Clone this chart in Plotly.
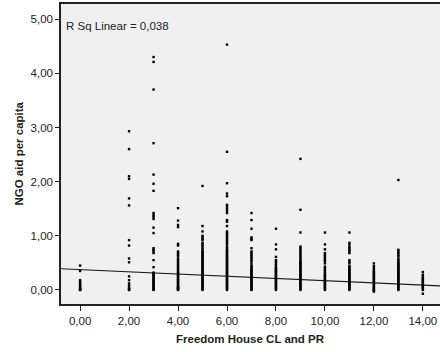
import plotly.graph_objects as go

# ---- data ----
fh_scores = [0, 2, 3, 4, 5, 6, 7, 8, 9, 10, 11, 12, 13, 14]

ngo_0 = [0.45, 0.35, 0.18, 0.15, 0.12, 0.09, 0.06, 0.04, 0.02, 0.01, 0.0, 0.0]
ngo_2 = [2.93, 2.60, 2.10, 2.05, 1.69, 1.56, 0.92, 0.82, 0.58, 0.51, 0.25, 0.18,
         0.12, 0.08, 0.04, 0.02, 0.0, 0.0]
ngo_3 = [4.30, 4.21, 3.70, 2.71, 2.13, 1.96, 1.83, 1.42, 1.38, 1.35, 1.31, 1.15,
         1.05, 0.77, 0.74, 0.71, 0.68, 0.55, 0.42, 0.32, 0.30, 0.28, 0.26, 0.24,
         0.22, 0.20, 0.18, 0.16, 0.14, 0.12, 0.10, 0.08, 0.06, 0.04, 0.03, 0.02,
         0.01, 0.0]
ngo_4 = [1.51, 1.28, 1.20, 1.16, 0.85, 0.82, 0.71, 0.68, 0.65, 0.62, 0.58, 0.55,
         0.52, 0.49, 0.46, 0.43, 0.40, 0.37, 0.34, 0.32, 0.30, 0.28, 0.26, 0.24,
         0.22, 0.20, 0.18, 0.16, 0.14, 0.12, 0.10, 0.08, 0.06, 0.05, 0.04, 0.03,
         0.02, 0.01, 0.0]
ngo_5 = [1.92, 1.18, 1.08, 1.00, 0.97, 0.94, 0.92, 0.87, 0.84, 0.81, 0.78, 0.75,
         0.72, 0.70, 0.68, 0.66, 0.64, 0.62, 0.60, 0.58, 0.56, 0.54, 0.52, 0.50,
         0.48, 0.46, 0.44, 0.42, 0.40, 0.38, 0.36, 0.34, 0.32, 0.30, 0.28, 0.26,
         0.24, 0.22, 0.20, 0.18, 0.16, 0.14, 0.12, 0.10, 0.08, 0.06, 0.04, 0.02,
         0.0]
ngo_6 = [4.53, 2.55, 1.97, 1.78, 1.73, 1.57, 1.54, 1.50, 1.46, 1.42, 1.29, 1.26,
         1.18, 1.08, 1.05, 1.02, 0.99, 0.96, 0.93, 0.90, 0.87, 0.84, 0.80, 0.77,
         0.74, 0.72, 0.70, 0.68, 0.66, 0.64, 0.62, 0.60, 0.58, 0.56, 0.54, 0.52,
         0.50, 0.48, 0.46, 0.44, 0.42, 0.40, 0.38, 0.36, 0.34, 0.32, 0.30, 0.28,
         0.26, 0.24, 0.22, 0.20, 0.18, 0.16, 0.14, 0.12, 0.10, 0.08, 0.06, 0.04,
         0.02, 0.0]
ngo_7 = [1.42, 1.29, 1.13, 0.97, 0.94, 0.92, 0.77, 0.71, 0.68, 0.65, 0.62, 0.59,
         0.56, 0.53, 0.49, 0.45, 0.43, 0.41, 0.39, 0.37, 0.35, 0.33, 0.31, 0.29,
         0.27, 0.25, 0.23, 0.21, 0.19, 0.17, 0.15, 0.13, 0.11, 0.09, 0.07, 0.05,
         0.03, 0.01, 0.0]
ngo_8 = [1.13, 0.84, 0.75, 0.61, 0.55, 0.52, 0.49, 0.46, 0.42, 0.40, 0.38, 0.36,
         0.34, 0.32, 0.30, 0.28, 0.26, 0.24, 0.22, 0.20, 0.18, 0.16, 0.14, 0.12,
         0.10, 0.08, 0.06, 0.04, 0.02, 0.0]
ngo_9 = [2.42, 1.48, 1.06, 0.80, 0.77, 0.74, 0.70, 0.67, 0.64, 0.61, 0.58, 0.55,
         0.52, 0.50, 0.48, 0.46, 0.44, 0.42, 0.40, 0.38, 0.36, 0.34, 0.32, 0.30,
         0.28, 0.26, 0.24, 0.22, 0.20, 0.18, 0.16, 0.14, 0.12, 0.10, 0.08, 0.06,
         0.04, 0.02, 0.0]
ngo_10 = [1.06, 0.84, 0.75, 0.68, 0.65, 0.62, 0.59, 0.56, 0.53, 0.49, 0.43, 0.40,
          0.37, 0.34, 0.31, 0.28, 0.26, 0.24, 0.22, 0.20, 0.18, 0.16, 0.14, 0.12,
          0.10, 0.08, 0.06, 0.04, 0.02, 0.0]
ngo_11 = [1.06, 0.87, 0.84, 0.80, 0.77, 0.74, 0.71, 0.68, 0.55, 0.52, 0.49, 0.44,
          0.42, 0.40, 0.38, 0.36, 0.34, 0.32, 0.30, 0.28, 0.26, 0.24, 0.22, 0.20,
          0.18, 0.16, 0.14, 0.12, 0.10, 0.08, 0.06, 0.04, 0.02, 0.0]
ngo_12 = [0.49, 0.44, 0.41, 0.38, 0.35, 0.33, 0.31, 0.29, 0.27, 0.25, 0.23, 0.21,
          0.19, 0.17, 0.15, 0.13, 0.11, 0.09, 0.07, 0.05, 0.03, 0.01, 0.0, -0.02,
          -0.03]
ngo_13 = [2.03, 0.74, 0.71, 0.68, 0.65, 0.62, 0.58, 0.55, 0.52, 0.50, 0.48, 0.46,
          0.44, 0.42, 0.40, 0.38, 0.36, 0.34, 0.32, 0.30, 0.28, 0.26, 0.24, 0.22,
          0.20, 0.18, 0.16, 0.14, 0.12, 0.10, 0.08, 0.06, 0.04, 0.02, 0.0]
ngo_14 = [0.33, 0.28, 0.25, 0.22, 0.20, 0.18, 0.16, 0.14, 0.12, 0.10, 0.08, 0.06,
          0.04, 0.02, 0.0, -0.07]

ngo_columns = [ngo_0, ngo_2, ngo_3, ngo_4, ngo_5, ngo_6, ngo_7, ngo_8, ngo_9,
               ngo_10, ngo_11, ngo_12, ngo_13, ngo_14]

fit_intercept = 0.374
fit_slope = -0.0204
r_sq_label = "R Sq Linear = 0,038"

x_range = [-0.78, 14.7]
y_range = [-0.26, 5.28]
x_ticks = [0, 2, 4, 6, 8, 10, 12, 14]
y_ticks = [0, 1, 2, 3, 4, 5]

# ---- build ----
xs, ys = [], []
for score, col in zip(fh_scores, ngo_columns):
    for v in col:
        xs.append(score)
        ys.append(v)

FONT = "Liberation Sans, Arial, sans-serif"
TXT = "#222222"

fig = go.Figure()
fig.add_trace(go.Scatter(
    x=x_range,
    y=[fit_intercept + fit_slope * x for x in x_range],
    mode="lines", line=dict(color="#1a1a1a", width=1.1),
    showlegend=False, hoverinfo="skip"))
fig.add_trace(go.Scatter(
    x=xs, y=ys, mode="markers",
    marker=dict(symbol="square", size=2.4, color="black", line=dict(width=0)),
    showlegend=False))

fig.update_layout(
    width=440, height=352,
    margin=dict(l=61, r=0, t=4, b=48),
    paper_bgcolor="white", plot_bgcolor="#f0f0f0",
    separators=",.",
    font=dict(family=FONT, size=11.5, color=TXT),
    xaxis=dict(range=x_range, tickvals=x_ticks, tickformat=".2f",
               showgrid=False, zeroline=False, showline=True, linecolor="#222",
               linewidth=1.5, mirror=True, ticks="outside", ticklen=5,
               tickcolor="#222", tickfont=dict(size=11.5, color=TXT)),
    yaxis=dict(range=y_range, tickvals=y_ticks, tickformat=".2f",
               showgrid=False, zeroline=False, showline=True, linecolor="#222",
               linewidth=1.5, ticks="outside", ticklen=4, tickcolor="#222",
               tickfont=dict(size=11.5, color=TXT)),
    annotations=[
        dict(text=r_sq_label, xref="paper", yref="paper", x=0.008, y=0.925,
             xanchor="left", yanchor="middle", showarrow=False,
             font=dict(size=11.5, color=TXT)),
        dict(text="<b>Freedom House CL and PR</b>", xref="paper", yref="paper",
             x=0.5, y=-0.117, xanchor="center", yanchor="middle", showarrow=False,
             font=dict(size=11.5, color=TXT)),
        dict(text="<b>NGO aid per capita</b>", xref="paper", yref="paper",
             x=-0.112, y=0.5, xanchor="center", yanchor="middle", textangle=-90,
             showarrow=False, font=dict(size=11.5, color=TXT)),
    ],
)

fig.write_html("out.html")
